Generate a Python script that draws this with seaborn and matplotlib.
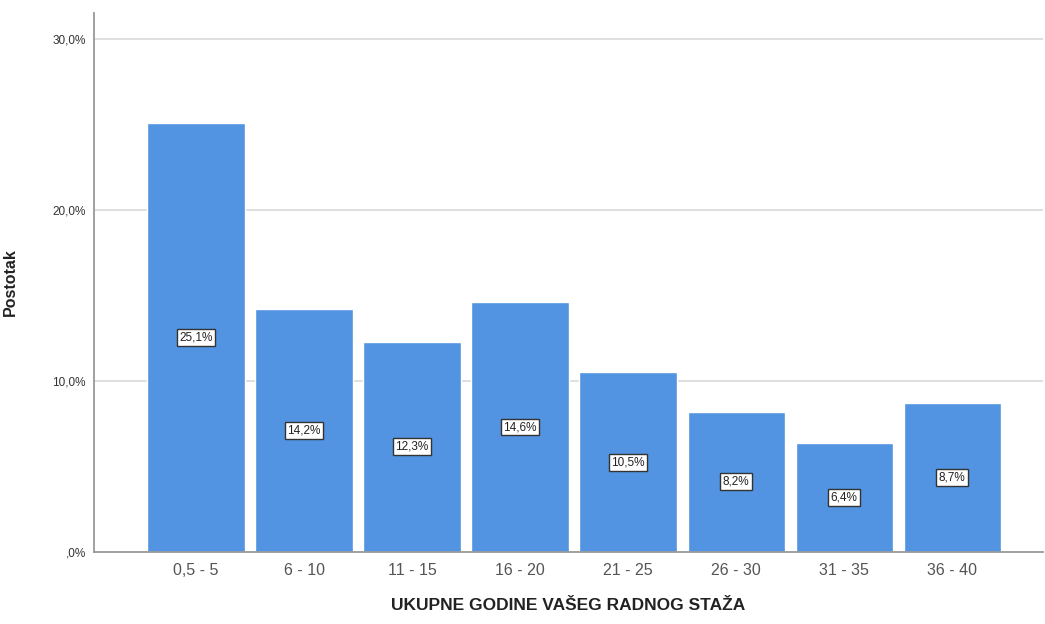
import matplotlib
matplotlib.use("Agg")
import matplotlib.pyplot as plt
import pandas as pd
import seaborn as sns
from matplotlib.ticker import FuncFormatter

categories = ["0,5 - 5", "6 - 10", "11 - 15", "16 - 20", "21 - 25", "26 - 30", "31 - 35", "36 - 40"]
percentages = [25.1, 14.2, 12.3, 14.6, 10.5, 8.2, 6.4, 8.7]
y_ticks = [0, 10, 20, 30]

df = pd.DataFrame({"staz": categories, "postotak": percentages})


def pct_label(v):
    s = f"{v:.1f}%".replace(".", ",")
    return s.lstrip("0") if v == 0 else s


sns.set_theme(style="white")
plt.rcParams["font.family"] = ["Liberation Sans", "DejaVu Sans"]

fig = plt.figure(figsize=(10.45, 6.24), dpi=100)
ax = fig.add_axes([0.09, 0.1154, 0.908, 0.8636])

for y in y_ticks[1:]:
    ax.axhline(y, color="#d9d9d9", lw=1.2, zorder=0)

sns.barplot(data=df, x="staz", y="postotak", color="#5294e2", saturation=1,
            width=0.9, ax=ax, zorder=2)

for i, v in enumerate(percentages):
    ax.text(i, v / 2, pct_label(v), ha="center", va="center",
            fontsize=8.5, color="#222222", zorder=3,
            bbox=dict(boxstyle="square,pad=0.2", fc="white", ec="#333333", lw=1))

ax.set_ylim(0, 31.5)
ax.set_xlim(-0.944, 7.84)
ax.set_yticks(y_ticks)
ax.yaxis.set_major_formatter(FuncFormatter(lambda v, _: pct_label(v)))
ax.tick_params(axis="y", labelsize=8.5, labelcolor="#333333", length=0, pad=6)
ax.tick_params(axis="x", labelsize=11.5, labelcolor="#555555", length=0, pad=8)

for side in ["top", "right"]:
    ax.spines[side].set_visible(False)
for side in ["left", "bottom"]:
    ax.spines[side].set_color("#999999")
    ax.spines[side].set_linewidth(1.3)

ax.set_xlabel("UKUPNE GODINE VAŠEG RADNOG STAŽA", fontsize=12.5, fontweight="bold",
              color="#222222", labelpad=14)
ax.set_ylabel("Postotak", fontsize=11.5, fontweight="bold", color="#222222")
ax.yaxis.set_label_coords(-0.08, 0.5)

fig.savefig("out.png", dpi=100)
